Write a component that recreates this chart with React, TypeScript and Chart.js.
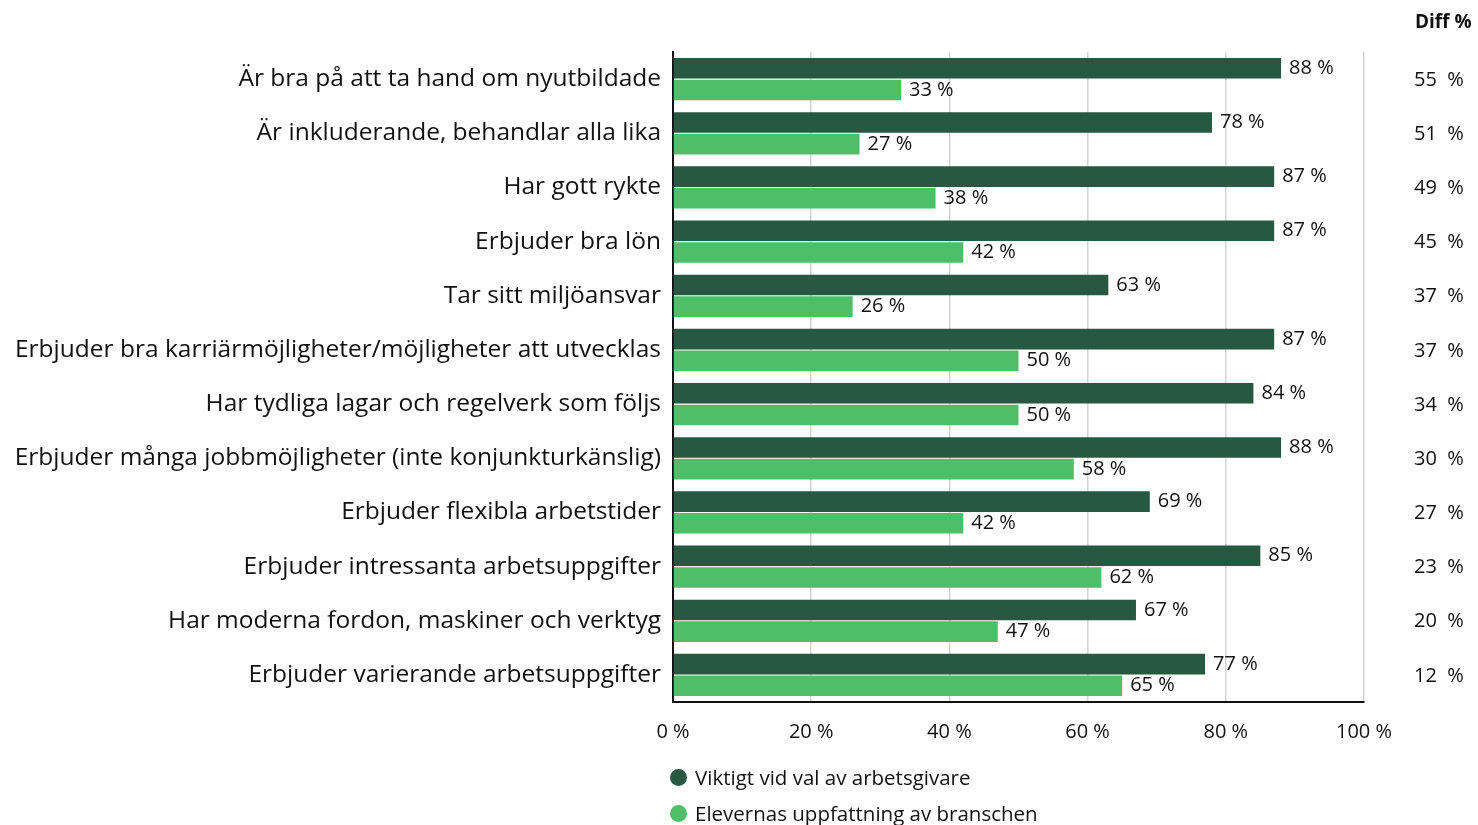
import React, { useEffect, useRef } from "react";
import { Chart, registerables } from "chart.js";

Chart.register(...registerables);

const categories = [
  "Är bra på att ta hand om nyutbildade",
  "Är inkluderande, behandlar alla lika",
  "Har gott rykte",
  "Erbjuder bra lön",
  "Tar sitt miljöansvar",
  "Erbjuder bra karriärmöjligheter/möjligheter att utvecklas",
  "Har tydliga lagar och regelverk som följs",
  "Erbjuder många jobbmöjligheter (inte konjunkturkänslig)",
  "Erbjuder flexibla arbetstider",
  "Erbjuder intressanta arbetsuppgifter",
  "Har moderna fordon, maskiner och verktyg",
  "Erbjuder varierande arbetsuppgifter",
];
const viktigt = [88, 78, 87, 87, 63, 87, 84, 88, 69, 85, 67, 77];
const elevernas = [33, 27, 38, 42, 26, 50, 50, 58, 42, 62, 47, 65];
const diffs = [55, 51, 49, 45, 37, 37, 34, 30, 27, 23, 20, 12];
const xTicks = [0, 20, 40, 60, 80, 100];
const seriesNames = ["Viktigt vid val av arbetsgivare", "Elevernas uppfattning av branschen"];

const DARK = "#275841";
const LIGHT = "#4DBF68";
const FONT = "'Open Sans', sans-serif";

const labelPlugin = {
  id: "labels",
  afterDatasetsDraw(chart: any) {
    const ctx = chart.ctx;
    ctx.save();
    ctx.fillStyle = "#111";
    ctx.font = `20px ${FONT}`;
    ctx.textBaseline = "middle";
    ctx.textAlign = "left";
    chart.data.datasets.forEach((ds: any, di: number) => {
      const meta = chart.getDatasetMeta(di);
      meta.data.forEach((bar: any, i: number) => {
        ctx.fillText(`${ds.data[i]} %`, bar.x + 8, bar.y);
      });
    });
    const yScale = chart.scales.y;
    ctx.font = `bold 19px ${FONT}`;
    ctx.fillText("Diff %", 1415, 23);
    ctx.font = `20px ${FONT}`;
    diffs.forEach((d, i) => {
      ctx.fillText(`${d}  %`, 1414, yScale.getPixelForValue(i) + 1);
    });
    ctx.restore();
  },
};

export default function App() {
  const ref = useRef<HTMLCanvasElement | null>(null);
  useEffect(() => {
    document.body.style.margin = "0";
    const chart = new Chart(ref.current!, {
      type: "bar",
      data: {
        labels: categories,
        datasets: [
          { label: seriesNames[0], data: viktigt, backgroundColor: DARK, categoryPercentage: 0.8, barPercentage: 0.95 },
          { label: seriesNames[1], data: elevernas, backgroundColor: LIGHT, categoryPercentage: 0.8, barPercentage: 0.95 },
        ],
      },
      options: {
        indexAxis: "y",
        animation: false,
        responsive: false,
        layout: { padding: { top: 52, right: 114, bottom: 0, left: 0 } },
        plugins: { legend: { display: false }, tooltip: { enabled: false } },
        scales: {
          x: {
            min: 0,
            max: 100,
            afterFit: (s: any) => { s.height = 123; },
            afterBuildTicks: (s: any) => { s.ticks = xTicks.map((v) => ({ value: v })); },
            ticks: {
              padding: 18,
              color: "#111",
              font: { family: FONT, size: 20 },
              callback: (v: any) => `${v} %`,
            },
            grid: { color: "#d4d4d4", lineWidth: 1.5, drawTicks: false },
            border: { color: "#111", width: 2 },
          },
          y: {
            afterFit: (s: any) => { s.width = 673; },
            ticks: {
              padding: 12,
              color: "#111",
              font: { family: FONT, size: 24.5 },
            },
            grid: { display: false, drawTicks: false },
            border: { color: "#111", width: 2 },
          },
        },
      },
      plugins: [labelPlugin],
    });
    return () => chart.destroy();
  }, []);

  const legendItem = (color: string, text: string, top: number) => (
    <div style={{ position: "absolute", left: 670, top, display: "flex", alignItems: "center", fontFamily: FONT, fontSize: 20.5, color: "#111", lineHeight: "28px" }}>
      <span style={{ width: 17, height: 17, borderRadius: "50%", background: color, display: "inline-block", marginRight: 8 }} />
      {text}
    </div>
  );

  return (
    <div style={{ position: "relative", width: 1478, height: 825, background: "#fff" }}>
      <canvas ref={ref} width={1478} height={825} style={{ position: "absolute", left: 0, top: 0 }} />
      {legendItem(DARK, seriesNames[0], 763)}
      {legendItem(LIGHT, seriesNames[1], 799)}
    </div>
  );
}
